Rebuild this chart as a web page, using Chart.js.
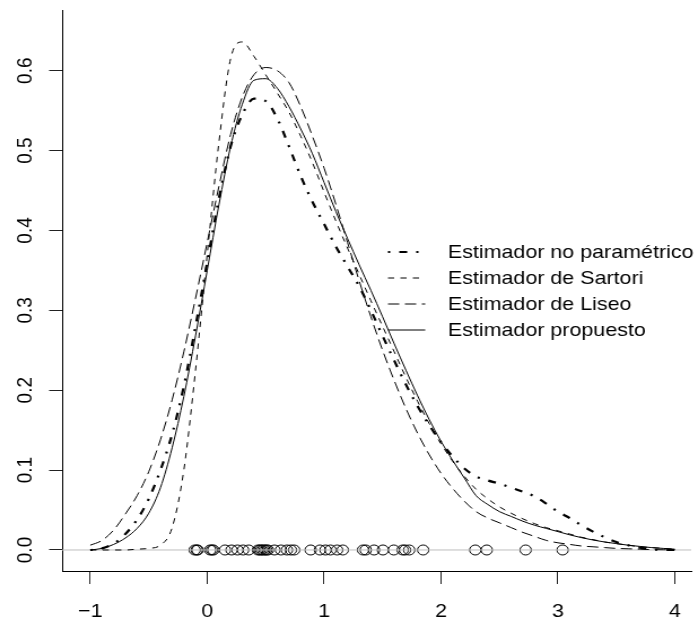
<!DOCTYPE html>
<html>
<head>
<meta charset="utf-8">
<script src="https://cdn.jsdelivr.net/npm/chart.js@4"></script>
<style>
  html, body { margin: 0; padding: 0; background: #fff; overflow: hidden; }
  #plot { display: block; transform: scaleX(1.1294); transform-origin: 0 0; }
</style>
</head>
<body>
<canvas id="plot" width="618" height="624"></canvas>
<script>
// grid the density estimates were evaluated on
const xs = [-1.0, -0.9, -0.8, -0.7, -0.6, -0.5, -0.4, -0.3, -0.2, -0.1,
  0.0, 0.1, 0.2, 0.3, 0.4, 0.5, 0.6, 0.7, 0.8, 0.9,
  1.0, 1.1, 1.2, 1.3, 1.4, 1.5, 1.6, 1.7, 1.8, 1.9,
  2.0, 2.1, 2.2, 2.3, 2.4, 2.5, 2.6, 2.7, 2.8, 2.9,
  3.0, 3.1, 3.2, 3.3, 3.4, 3.5, 3.6, 3.7, 3.8, 3.9, 4.0];

const noParametrico = [0.000, 0.002, 0.008, 0.020, 0.038, 0.064, 0.100, 0.145, 0.205, 0.280,
  0.360, 0.440, 0.505, 0.545, 0.565, 0.562, 0.540, 0.505, 0.468, 0.436,
  0.408, 0.380, 0.355, 0.330, 0.300, 0.268, 0.237, 0.207, 0.180, 0.156,
  0.135, 0.117, 0.102, 0.092, 0.087, 0.083, 0.078, 0.073, 0.067, 0.058,
  0.048, 0.040, 0.031, 0.023, 0.016, 0.010, 0.006, 0.003, 0.001, 0.000, 0.000];

const sartori = [0.000, 0.000, 0.000, 0.000, 0.001, 0.002, 0.006, 0.028, 0.100, 0.225,
  0.370, 0.510, 0.615, 0.636, 0.618, 0.595, 0.572, 0.548, 0.518, 0.485,
  0.448, 0.412, 0.378, 0.345, 0.312, 0.280, 0.248, 0.216, 0.186, 0.158,
  0.133, 0.111, 0.092, 0.076, 0.064, 0.054, 0.046, 0.039, 0.033, 0.028,
  0.024, 0.020, 0.016, 0.013, 0.010, 0.008, 0.006, 0.004, 0.003, 0.002, 0.001];

const liseo = [0.006, 0.012, 0.025, 0.045, 0.068, 0.098, 0.138, 0.188, 0.248, 0.315,
  0.385, 0.455, 0.520, 0.567, 0.595, 0.604, 0.600, 0.585, 0.555, 0.518,
  0.478, 0.433, 0.385, 0.337, 0.292, 0.250, 0.212, 0.177, 0.146, 0.119,
  0.096, 0.077, 0.061, 0.048, 0.040, 0.034, 0.028, 0.022, 0.017, 0.012,
  0.009, 0.007, 0.005, 0.004, 0.003, 0.002, 0.0015, 0.001, 0.0005, 0.0003, 0.0002];

const propuesto = [0.000, 0.002, 0.007, 0.015, 0.027, 0.046, 0.078, 0.128, 0.192, 0.268,
  0.350, 0.432, 0.505, 0.558, 0.588, 0.590, 0.578, 0.555, 0.527, 0.496,
  0.460, 0.424, 0.390, 0.357, 0.325, 0.292, 0.258, 0.225, 0.193, 0.163,
  0.136, 0.112, 0.090, 0.068, 0.057, 0.048, 0.042, 0.036, 0.031, 0.027,
  0.023, 0.019, 0.0155, 0.0125, 0.010, 0.008, 0.006, 0.0045, 0.003, 0.002, 0.001];

// observed sample, drawn as a rug of open circles on y = 0
const muestra = [-0.107, -0.09, -0.082, 0.025, 0.04, 0.053, 0.152, 0.208, 0.259, 0.307,
  0.355, 0.434, 0.448, 0.462, 0.476, 0.491, 0.505, 0.519, 0.575, 0.631,
  0.682, 0.716, 0.744, 0.885, 0.964, 1.012, 1.054, 1.111, 1.16, 1.333,
  1.356, 1.427, 1.503, 1.596, 1.672, 1.692, 1.728, 1.847, 2.293, 2.391,
  2.724, 3.04];

const xTicks = [-1, 0, 1, 2, 3, 4];
const yTicks = [0, 0.1, 0.2, 0.3, 0.4, 0.5, 0.6];
const etiquetas = ["Estimador no paramétrico", "Estimador de Sartori", "Estimador de Liseo", "Estimador propuesto"];

const FONT = "Liberation Sans, Arial, Helvetica, sans-serif";
const xLim = [-1.241, 4.14];
const yLim = [-0.0263, 0.676];

const pts = (ys) => xs.map((x, i) => ({ x, y: ys[i] }));

function curve(label, ys, dash, width) {
  return {
    label,
    data: pts(ys),
    borderColor: "#000",
    borderWidth: width,
    borderDash: dash,
    pointRadius: 0,
    fill: false,
    cubicInterpolationMode: "monotone",
  };
}

const datasets = [
  curve(etiquetas[0], noParametrico, [2, 8, 7, 8], 2.2),
  curve(etiquetas[1], sartori, [5.5, 5.5], 1),
  curve(etiquetas[2], liseo, [10, 5], 1),
  curve(etiquetas[3], propuesto, [], 1),
  {
    label: "cero",
    data: [{ x: xLim[0], y: 0 }, { x: xLim[1], y: 0 }],
    borderColor: "#bebebe",
    borderWidth: 1,
    pointRadius: 0,
  },
  {
    label: "muestra",
    data: muestra.map((x) => ({ x, y: 0 })),
    showLine: false,
    pointRadius: 5,
    pointBorderWidth: 1,
    pointBorderColor: "#000",
    pointBackgroundColor: "rgba(0,0,0,0)",
  },
];

// tick labels R style: x labels under the ticks, y labels turned on their side
const tickLabels = {
  id: "tickLabels",
  afterDraw(chart) {
    const { ctx, scales } = chart;
    ctx.save();
    ctx.fillStyle = "#000";
    ctx.font = "19px " + FONT;
    ctx.textAlign = "center";
    ctx.textBaseline = "middle";
    xTicks.forEach((v) => {
      const txt = v < 0 ? "\u2212" + Math.abs(v) : String(v);
      ctx.fillText(txt, scales.x.getPixelForValue(v), 612);
    });
    yTicks.forEach((v) => {
      const y = scales.y.getPixelForValue(v);
      ctx.save();
      ctx.translate(22.5, y);
      ctx.rotate(-Math.PI / 2);
      ctx.fillText(v.toFixed(1), 0, 0);
      ctx.restore();
    });
    ctx.restore();
  },
};

// legend without a box, line samples to the left of the text
const leyenda = {
  id: "leyenda",
  afterDraw(chart) {
    const { ctx } = chart;
    const x0 = 343.5, x1 = 376.5, xt = 396.5;
    const rows = [252, 278, 304, 330];
    ctx.save();
    ctx.font = "19px " + FONT;
    ctx.fillStyle = "#000";
    ctx.textBaseline = "middle";
    for (let i = 0; i < 4; i++) {
      const ds = chart.data.datasets[i];
      ctx.strokeStyle = "#000";
      ctx.lineWidth = ds.borderWidth;
      ctx.setLineDash(ds.borderDash);
      ctx.beginPath();
      ctx.moveTo(x0, rows[i]);
      ctx.lineTo(x1, rows[i]);
      ctx.stroke();
      ctx.setLineDash([]);
      ctx.fillText(ds.label, xt, rows[i] + 1);
    }
    ctx.restore();
  },
};

new Chart(document.getElementById("plot"), {
  type: "line",
  data: { datasets },
  options: {
    responsive: false,
    animation: false,
    devicePixelRatio: 1,
    layout: { padding: { top: 10, right: 0, left: 0, bottom: 0 } },
    plugins: { legend: { display: false }, tooltip: { enabled: false } },
    scales: {
      x: {
        type: "linear",
        min: xLim[0],
        max: xLim[1],
        afterBuildTicks: (s) => { s.ticks = xTicks.map((v) => ({ value: v })); },
        afterFit: (s) => { s.height = 53; },
        border: { display: true, color: "#000", width: 1 },
        grid: { drawOnChartArea: false, drawTicks: true, tickLength: 13, color: "#222" },
        ticks: { display: false },
      },
      y: {
        type: "linear",
        min: yLim[0],
        max: yLim[1],
        afterBuildTicks: (s) => { s.ticks = yTicks.map((v) => ({ value: v })); },
        afterFit: (s) => { s.width = 55; },
        border: { display: true, color: "#000", width: 1 },
        grid: { drawOnChartArea: false, drawTicks: true, tickLength: 11.5, color: "#222" },
        ticks: { display: false },
      },
    },
  },
  plugins: [tickLabels, leyenda],
});
</script>
</body>
</html>
